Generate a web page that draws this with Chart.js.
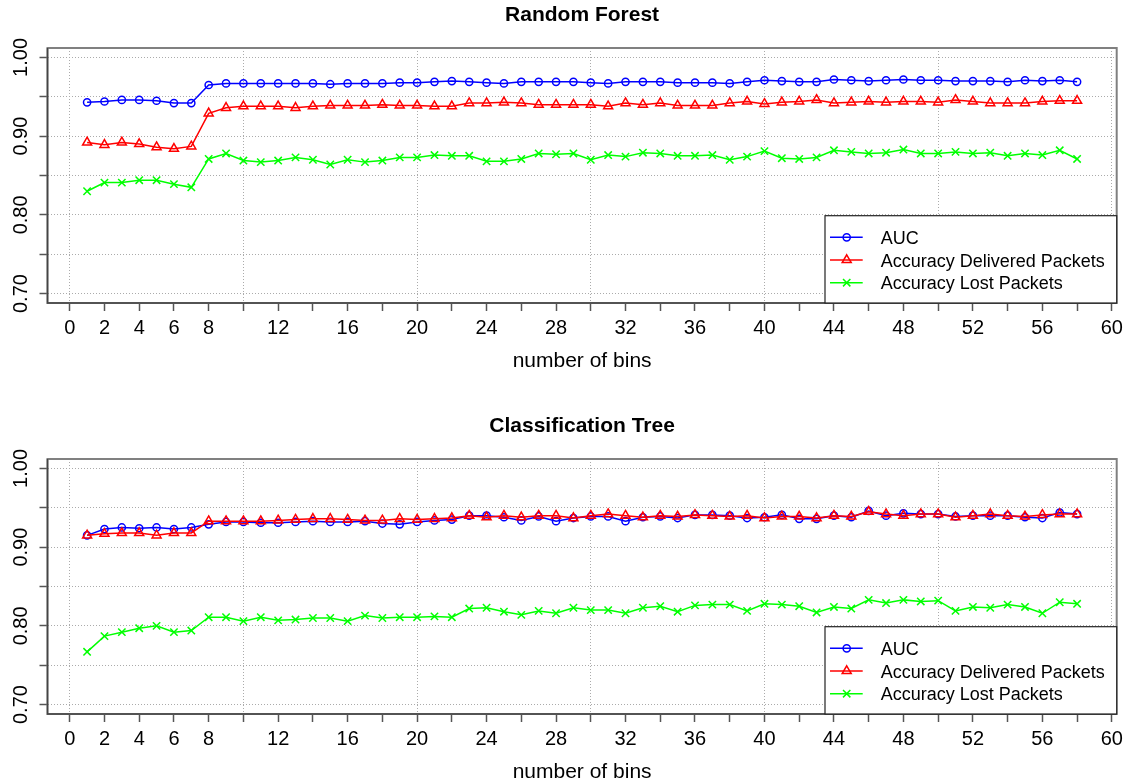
<!DOCTYPE html>
<html>
<head>
<meta charset="utf-8">
<script src="https://cdn.jsdelivr.net/npm/chart.js@4.4.1/dist/chart.umd.min.js"></script>
<style>
  body { margin: 0; background: #fff; }
  .panel { position: absolute; left: 0; width: 1130px; height: 373px; }
  canvas { display: block; }
</style>
</head>
<body>
<div class="panel" style="top:0"><canvas id="rf" width="1130" height="373"></canvas></div>
<div class="panel" style="top:411px"><canvas id="ct" width="1130" height="373"></canvas></div>
<script>
// number of bins
const bins = [1, 2, 3, 4, 5, 6, 7, 8, 9, 10, 11, 12, 13, 14, 15, 16, 17, 18, 19, 20,
  21, 22, 23, 24, 25, 26, 27, 28, 29, 30, 31, 32, 33, 34, 35, 36, 37, 38, 39, 40,
  41, 42, 43, 44, 45, 46, 47, 48, 49, 50, 51, 52, 53, 54, 55, 56, 57, 58];

// Random Forest
const rfAuc = [0.943, 0.944, 0.946, 0.946, 0.945, 0.942, 0.942, 0.965, 0.967, 0.967,
  0.967, 0.967, 0.967, 0.967, 0.966, 0.967, 0.967, 0.967, 0.968, 0.968,
  0.969, 0.970, 0.969, 0.968, 0.967, 0.969, 0.969, 0.969, 0.969, 0.968,
  0.967, 0.969, 0.969, 0.969, 0.968, 0.968, 0.968, 0.967, 0.969, 0.971,
  0.970, 0.969, 0.969, 0.972, 0.971, 0.970, 0.971, 0.972, 0.971, 0.971,
  0.970, 0.970, 0.970, 0.969, 0.971, 0.970, 0.971, 0.969];
const rfDelivered = [0.892, 0.889, 0.892, 0.890, 0.886, 0.884, 0.887, 0.929, 0.936, 0.938,
  0.938, 0.938, 0.936, 0.938, 0.939, 0.939, 0.939, 0.940, 0.939, 0.939,
  0.938, 0.938, 0.942, 0.942, 0.943, 0.942, 0.940, 0.940, 0.940, 0.940,
  0.938, 0.942, 0.940, 0.942, 0.939, 0.939, 0.939, 0.942, 0.944, 0.941,
  0.943, 0.944, 0.946, 0.942, 0.943, 0.944, 0.943, 0.944, 0.944, 0.943,
  0.946, 0.944, 0.942, 0.942, 0.942, 0.944, 0.945, 0.945];
const rfLost = [0.830, 0.841, 0.841, 0.844, 0.844, 0.839, 0.835, 0.871, 0.878, 0.869,
  0.867, 0.869, 0.873, 0.870, 0.864, 0.870, 0.867, 0.869, 0.873, 0.873,
  0.876, 0.875, 0.875, 0.868, 0.868, 0.871, 0.878, 0.877, 0.878, 0.870,
  0.876, 0.874, 0.879, 0.878, 0.875, 0.875, 0.876, 0.870, 0.874, 0.881,
  0.872, 0.871, 0.873, 0.882, 0.880, 0.878, 0.879, 0.883, 0.878, 0.878,
  0.880, 0.878, 0.879, 0.875, 0.878, 0.876, 0.882, 0.871];

// Classification Tree
const ctAuc = [0.915, 0.923, 0.925, 0.924, 0.925, 0.923, 0.925, 0.929, 0.932, 0.932,
  0.931, 0.931, 0.932, 0.933, 0.932, 0.932, 0.933, 0.930, 0.929, 0.932,
  0.934, 0.935, 0.940, 0.940, 0.938, 0.934, 0.939, 0.933, 0.937, 0.939,
  0.939, 0.933, 0.938, 0.939, 0.937, 0.941, 0.941, 0.940, 0.937, 0.938,
  0.941, 0.936, 0.936, 0.940, 0.938, 0.946, 0.940, 0.943, 0.942, 0.942,
  0.939, 0.940, 0.940, 0.940, 0.938, 0.937, 0.944, 0.942];
const ctDelivered = [0.915, 0.917, 0.918, 0.918, 0.915, 0.918, 0.918, 0.933, 0.933, 0.933,
  0.933, 0.934, 0.935, 0.936, 0.936, 0.935, 0.934, 0.934, 0.936, 0.935,
  0.936, 0.937, 0.940, 0.938, 0.940, 0.938, 0.940, 0.940, 0.937, 0.940,
  0.942, 0.940, 0.938, 0.940, 0.939, 0.941, 0.940, 0.939, 0.940, 0.937,
  0.939, 0.939, 0.937, 0.940, 0.939, 0.945, 0.942, 0.940, 0.942, 0.942,
  0.938, 0.940, 0.942, 0.940, 0.939, 0.941, 0.942, 0.942];
const ctLost = [0.767, 0.787, 0.792, 0.797, 0.800, 0.792, 0.794, 0.811, 0.811, 0.806,
  0.811, 0.807, 0.808, 0.810, 0.810, 0.806, 0.813, 0.810, 0.811, 0.811,
  0.812, 0.811, 0.822, 0.823, 0.818, 0.814, 0.819, 0.816, 0.823, 0.820,
  0.820, 0.816, 0.823, 0.825, 0.818, 0.826, 0.827, 0.827, 0.819, 0.828,
  0.827, 0.825, 0.817, 0.824, 0.822, 0.833, 0.829, 0.833, 0.831, 0.832,
  0.819, 0.824, 0.823, 0.827, 0.824, 0.816, 0.830, 0.828];

// axes
const xTicks = [0, 2, 4, 6, 8, 10, 12, 14, 16, 18, 20, 22, 24, 26, 28, 30,
  32, 34, 36, 38, 40, 42, 44, 46, 48, 50, 52, 54, 56, 58, 60];
const xTickLabels = [0, 2, 4, 6, 8, 12, 16, 20, 24, 28, 32, 36, 40, 44, 48, 52, 56, 60];
const yTicks = [0.70, 0.75, 0.80, 0.85, 0.90, 0.95, 1.00];
const yTickLabels = [0.70, 0.80, 0.90, 1.00];
const seriesNames = ['AUC', 'Accuracy Delivered Packets', 'Accuracy Lost Packets'];

const FONT = '"Liberation Sans", Arial, Helvetica, sans-serif';
const gridColor = '#ababab';

function drawMark(ctx, style, x, y, r) {
  ctx.beginPath();
  if (style === 'circle') {
    ctx.arc(x, y, r, 0, Math.PI * 2);
  } else if (style === 'triangle') {
    for (let k = 0; k < 3; k++) {
      const a = k * 2 * Math.PI / 3;
      const px = x + Math.sin(a) * r, py = y - Math.cos(a) * r;
      if (k === 0) ctx.moveTo(px, py); else ctx.lineTo(px, py);
    }
    ctx.closePath();
  } else {
    const d = r * Math.SQRT1_2;
    ctx.moveTo(x - d, y - d); ctx.lineTo(x + d, y + d);
    ctx.moveTo(x - d, y + d); ctx.lineTo(x + d, y - d);
  }
  ctx.stroke();
}

// box, legend and all the R-looking text
const rPlot = {
  id: 'rPlot',
  afterDatasetsDraw(chart, args, opts) {
    const { ctx, chartArea: a, scales: { x, y } } = chart;
    ctx.save();

    ctx.strokeStyle = '#808080';
    ctx.lineWidth = 2;
    ctx.strokeRect(a.left, a.top, a.right - a.left, a.bottom - a.top);
    ctx.strokeStyle = '#444';
    ctx.lineWidth = 1.5;
    ctx.beginPath();
    ctx.moveTo(a.left, a.top); ctx.lineTo(a.left, a.bottom); ctx.lineTo(a.right, a.bottom);
    ctx.stroke();

    // legend
    const lw = 291.7, lh = 87.3;
    const lx = a.right - lw, ly = a.bottom - lh;
    ctx.fillStyle = '#fff';
    ctx.fillRect(lx, ly, lw, lh);
    ctx.strokeStyle = '#222';
    ctx.lineWidth = 1.2;
    ctx.strokeRect(lx, ly, lw, lh);
    ctx.font = '18px ' + FONT;
    ctx.textAlign = 'left';
    ctx.textBaseline = 'alphabetic';
    chart.data.datasets.forEach((ds, i) => {
      const cy = ly + 21.6 + i * 22.7;
      ctx.strokeStyle = ds.borderColor;
      ctx.lineWidth = ds.borderWidth;
      ctx.beginPath();
      ctx.moveTo(lx + 5, cy); ctx.lineTo(lx + 37.7, cy);
      ctx.stroke();
      drawMark(ctx, ds.pointStyle, lx + 21.7, cy, ds.pointRadius);
      ctx.fillStyle = '#000';
      ctx.fillText(ds.label, lx + 55.7, cy + 6.6);
    });

    // tick labels
    ctx.fillStyle = '#000';
    ctx.font = '20px ' + FONT;
    ctx.textAlign = 'center';
    xTickLabels.forEach(v => ctx.fillText(String(v), x.getPixelForValue(v), a.bottom + 30.5));
    yTickLabels.forEach(v => {
      ctx.save();
      ctx.translate(a.left - 20.8, y.getPixelForValue(v));
      ctx.rotate(-Math.PI / 2);
      ctx.fillText(v.toFixed(2), 0, 0);
      ctx.restore();
    });

    const cx = (a.left + a.right) / 2;
    ctx.font = '21px ' + FONT;
    ctx.fillText('number of bins', cx, a.bottom + 63.7);
    ctx.font = 'bold 21px ' + FONT;
    ctx.fillText(opts.title, cx, 20.7);
    ctx.restore();
  }
};

function series(label, values, color, style, radius, order) {
  return {
    label: label,
    data: bins.map((b, i) => ({ x: b, y: values[i] })),
    borderColor: color,
    backgroundColor: 'rgba(0,0,0,0)',
    borderWidth: 1.5,
    pointStyle: style,
    pointRadius: radius,
    pointBorderColor: color,
    pointBackgroundColor: 'rgba(0,0,0,0)',
    pointBorderWidth: 1.5,
    tension: 0,
    fill: false,
    order: order
  };
}

function makeChart(id, title, auc, delivered, lost) {
  return new Chart(document.getElementById(id), {
    type: 'line',
    data: {
      datasets: [
        series(seriesNames[0], auc, '#0000ff', 'circle', 3.6, 3),
        series(seriesNames[1], delivered, '#ff0000', 'triangle', 5.2, 2),
        series(seriesNames[2], lost, '#00ff00', 'crossRot', 5.2, 1)
      ]
    },
    options: {
      responsive: false,
      animation: false,
      events: [],
      layout: { padding: { top: 48, right: 13.3, left: 0, bottom: 0 } },
      plugins: {
        legend: { display: false },
        title: { display: false },
        tooltip: { enabled: false },
        rPlot: { title: title }
      },
      scales: {
        x: {
          type: 'linear',
          min: -1.28,
          max: 60.28,
          afterBuildTicks: s => { s.ticks = xTicks.map(v => ({ value: v })); },
          afterFit: s => { s.height = 70; },
          ticks: { display: false },
          grid: {
            color: c => (c.tick && c.tick.value % 10 === 0) ? gridColor : 'rgba(0,0,0,0)',
            lineWidth: 1,
            tickColor: '#555',
            tickLength: 8,
            tickWidth: 1.5
          },
          border: { display: false, dash: [1, 2] }
        },
        y: {
          type: 'linear',
          min: 0.688,
          max: 1.012,
          afterBuildTicks: s => { s.ticks = yTicks.map(v => ({ value: v })); },
          afterFit: s => { s.width = 47.5; },
          ticks: { display: false },
          grid: {
            color: gridColor,
            lineWidth: 1,
            tickColor: '#555',
            tickLength: 8,
            tickWidth: 1.5
          },
          border: { display: false, dash: [1, 2] }
        }
      }
    },
    plugins: [rPlot]
  });
}

makeChart('rf', 'Random Forest', rfAuc, rfDelivered, rfLost);
makeChart('ct', 'Classification Tree', ctAuc, ctDelivered, ctLost);
</script>
</body>
</html>
